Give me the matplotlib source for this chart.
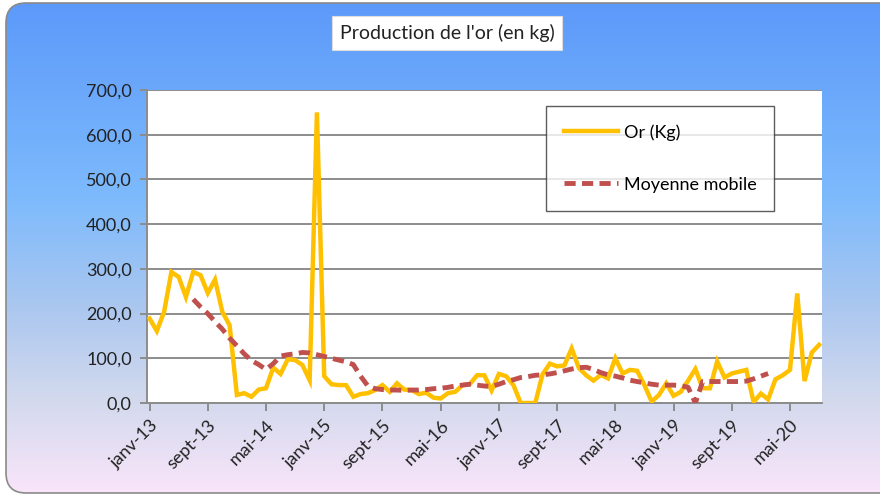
import numpy as np
import matplotlib
matplotlib.use("Agg")
import matplotlib.pyplot as plt
from matplotlib.colors import LinearSegmentedColormap
from matplotlib.patches import FancyBboxPatch

plt.rcParams['font.family'] = ['Lato', 'DejaVu Sans']

# Production mensuelle d'or (kg), janv-13 -> sept-20
or_kg = [189, 161, 204, 293, 282, 237, 293, 286, 246, 276, 204, 174,
         18, 22, 14, 30, 33, 79, 65, 98, 96, 85, 51, 650,
         60, 42, 40, 40, 14, 20, 22, 29, 40, 25, 44, 30,
         29, 20, 23, 12, 10, 22, 25, 40, 42, 62, 62, 28,
         65, 60, 40, 0, 0, 0, 64, 88, 82, 84, 122, 78,
         62, 50, 63, 55, 100, 66, 74, 72, 40, 3, 18, 44,
         16, 25, 50, 76, 33, 33, 93, 57, 66, 70, 74, 2,
         21, 8, 53, 62, 74, 245, 49, 113, 130]

# Moyenne mobile (à partir du 7e mois)
moy_debut = 6
moy_mobile = [232, 215, 200, 182, 165, 145, 128, 110, 95, 86, 75, 88,
              105, 108, 110, 113, 112, 108, 104, 100, 96, 92, 86, 60,
              38, 32, 30, 29, 29, 28, 29, 29, 30, 32, 33, 35,
              38, 40, 42, 40, 38, 37, 42, 48, 52, 57, 59, 62,
              63, 65, 68, 72, 76, 79, 80, 75, 68, 63, 60, 56,
              51, 48, 45, 42, 40, 40, 40, 39, 35, 0, 48, 48,
              48, 48, 48, 48, 49, 54, 60, 66]

mois = ["janv", "févr", "mars", "avr", "mai", "juin",
        "juil", "août", "sept", "oct", "nov", "déc"]
labels = ["%s-%02d" % (mois[i % 12], 13 + i // 12) for i in range(len(or_kg))]
yticks = [0, 100, 200, 300, 400, 500, 600, 700]

fig = plt.figure(figsize=(8.8, 4.95), dpi=100)

# fond dégradé arrondi
bg = fig.add_axes([0, 0, 1, 1])
bg.set_xlim(0, 880)
bg.set_ylim(495, 0)
bg.axis("off")
cmap = LinearSegmentedColormap.from_list("fond", [
    (0.0, (0.36, 0.60, 0.98)),
    (0.40, (0.49, 0.73, 0.99)),
    (0.62, (0.67, 0.78, 0.94)),
    (0.80, (0.82, 0.85, 0.93)),
    (1.0, (0.98, 0.90, 0.98))])
grad = np.linspace(0, 1, 256).reshape(-1, 1)
im = bg.imshow(grad, cmap=cmap, aspect="auto", extent=[0, 880, 495, 0], zorder=0)
box = FancyBboxPatch((6, 3), 900, 490, boxstyle="round,pad=0,rounding_size=20",
                     facecolor="none", edgecolor="#8a8a8a", lw=1.2, zorder=2)
bg.add_patch(box)
im.set_clip_path(box)

bg.text(447, 33, "Production de l'or (en kg)", fontsize=14, ha="center", va="center",
        color="#222222",
        bbox=dict(boxstyle="square,pad=0.4", facecolor="white", edgecolor="#dddddd", lw=0.8))

# graphique principal
ax = fig.add_axes([147 / 880, 1 - 403 / 495, (822 - 147) / 880, (403 - 90) / 495])
ax.set_facecolor("white")
x = np.arange(len(or_kg))
x_moy = np.arange(moy_debut, moy_debut + len(moy_mobile))
ax.plot(x, or_kg, color="#FFC000", lw=3.2, label="Or (Kg)", zorder=3,
        solid_joinstyle="miter")
ax.plot(x_moy, moy_mobile, color="#C0504D", lw=3.5, ls=(0, (2.3, 1.3)),
        label="Moyenne mobile", zorder=4)

ax.set_ylim(0, 700)
ax.set_xlim(-0.35, len(or_kg) - 0.6)
ax.set_yticks(yticks)
ax.set_yticklabels(["%d,0" % v for v in yticks], fontsize=13, color="#222222")
ax.yaxis.grid(True, color="#8c8c8c", lw=1.4)
ax.set_axisbelow(True)
ax.set_xticks(x[::8])
ax.set_xticklabels(labels[::8], rotation=45, ha="right", rotation_mode="anchor",
                   fontsize=13, color="#222222")
ax.tick_params(axis="x", length=6, color="#8c8c8c", width=1.4, pad=4)
ax.tick_params(axis="y", length=5, color="#8c8c8c", width=1.4, pad=6)
for s in ["top", "right"]:
    ax.spines[s].set_visible(False)
for s in ["left", "bottom"]:
    ax.spines[s].set_color("#8c8c8c")
    ax.spines[s].set_linewidth(1.4)

leg = ax.legend(loc="upper left", bbox_to_anchor=((546 - 147) / 675, (403 - 106) / 313),
                frameon=True, fancybox=False, fontsize=13, handlelength=3.0,
                labelspacing=2.0, borderpad=1.0, handletextpad=0.3,
                borderaxespad=0)
leg.get_frame().set_edgecolor("#333333")
leg.get_frame().set_linewidth(1.0)

fig.savefig("out.png", dpi=100)
